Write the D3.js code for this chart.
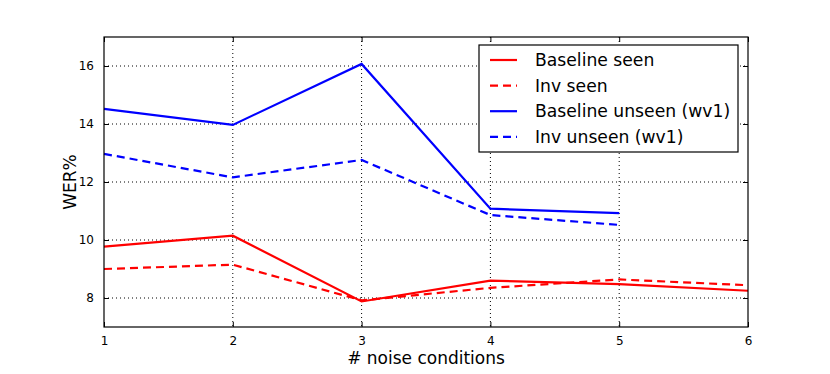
<!DOCTYPE html>
<html>
<head>
<meta charset="utf-8">
<script src="https://cdn.jsdelivr.net/npm/d3@7"></script>
<style>
  body { margin: 0; background: #fff; }
  svg { font-family: "DejaVu Sans", sans-serif; }
  .grid line { stroke: #000; stroke-dasharray: 1,3; stroke-width: 1; }
</style>
</head>
<body>
<div id="chart"></div>
<script>

// data
var noiseConditions = [1, 2, 3, 4, 5, 6];
var baselineSeen   = [9.77, 10.15, 7.88, 8.60, 8.48, 8.25];
var invSeen        = [9.00, 9.15, 7.92, 8.35, 8.64, 8.44];
var baselineUnseen = [14.52, 13.97, 16.07, 11.08, 10.93];
var invUnseen      = [12.97, 12.16, 12.76, 10.86, 10.52];
var yTicks = [8, 10, 12, 14, 16];

var series = [
  {name: "Baseline seen",        values: baselineSeen,   color: "#ff0000", dash: null},
  {name: "Inv seen",             values: invSeen,        color: "#ff0000", dash: "8,5"},
  {name: "Baseline unseen (wv1)", values: baselineUnseen, color: "#0000ff", dash: null},
  {name: "Inv unseen (wv1)",     values: invUnseen,      color: "#0000ff", dash: "8,5"}
];

var margin = {top: 37, right: 82, bottom: 47, left: 104},
    width = 830 - margin.left - margin.right,
    height = 374 - margin.top - margin.bottom;

var svg = d3.select("#chart").append("svg")
    .attr("width", 830)
    .attr("height", 374)
  .append("g")
    .attr("transform", "translate(" + margin.left + "," + margin.top + ")");

var x = d3.scaleLinear().domain([1, 6]).range([0, width]);
var y = d3.scaleLinear().domain([7, 17]).range([height, 0]);

// dotted grid
var grid = svg.append("g").attr("class", "grid");
grid.selectAll(".gx")
    .data(noiseConditions.slice(1, -1))
  .enter().append("line")
    .attr("x1", function(d) { return x(d); })
    .attr("x2", function(d) { return x(d); })
    .attr("y1", 0).attr("y2", height);
grid.selectAll(".gy")
    .data(yTicks)
  .enter().append("line")
    .attr("x1", 0).attr("x2", width)
    .attr("y1", function(d) { return y(d); })
    .attr("y2", function(d) { return y(d); });

// lines
var line = d3.line()
    .x(function(d, i) { return x(noiseConditions[i]); })
    .y(function(d) { return y(d); });

svg.selectAll(".series")
    .data(series)
  .enter().append("path")
    .attr("class", "series")
    .attr("d", function(d) { return line(d.values); })
    .attr("fill", "none")
    .attr("stroke", function(d) { return d.color; })
    .attr("stroke-width", 2.2)
    .attr("stroke-dasharray", function(d) { return d.dash; });

// axes, ticks inside (classic matplotlib look)
var xAxis = d3.axisBottom(x).tickValues(noiseConditions).tickFormat(d3.format("d"))
    .tickSizeInner(-5).tickSizeOuter(0).tickPadding(9);
var yAxis = d3.axisLeft(y).tickValues(yTicks)
    .tickSizeInner(-5).tickSizeOuter(0).tickPadding(10);

svg.append("g")
    .attr("class", "x axis")
    .attr("transform", "translate(0," + height + ")")
    .call(xAxis);
svg.append("g")
    .attr("class", "y axis")
    .call(yAxis);
svg.append("g")
    .call(d3.axisTop(x).tickValues(noiseConditions).tickFormat("").tickSizeInner(-5).tickSizeOuter(0));
svg.append("g")
    .attr("transform", "translate(" + width + ",0)")
    .call(d3.axisRight(y).tickValues(yTicks).tickFormat("").tickSizeInner(-5).tickSizeOuter(0));

svg.selectAll(".domain").remove();
svg.selectAll(".tick line").attr("stroke", "#000");
svg.selectAll(".tick text").attr("font-size", 12).attr("fill", "#000")
    .style("font-family", "DejaVu Sans, sans-serif");

// frame
svg.append("rect")
    .attr("width", width).attr("height", height)
    .attr("fill", "none").attr("stroke", "#000").attr("stroke-width", 1.2);

// axis labels
svg.append("text")
    .attr("x", width / 2)
    .attr("y", height + 37)
    .style("text-anchor", "middle")
    .attr("font-size", 17)
    .text("# noise conditions");

svg.append("text")
    .attr("transform", "rotate(-90)")
    .attr("x", -height / 2)
    .attr("y", -28)
    .style("text-anchor", "middle")
    .attr("font-size", 17)
    .text("WER%");

// legend
var legend = svg.append("g")
    .attr("transform", "translate(" + (479 - margin.left) + "," + (45 - margin.top) + ")");
legend.append("rect")
    .attr("width", 259).attr("height", 107)
    .attr("fill", "#fff").attr("stroke", "#000").attr("stroke-width", 1.2);

var item = legend.selectAll(".item")
    .data(series)
  .enter().append("g")
    .attr("class", "item")
    .attr("transform", function(d, i) { return "translate(0," + (15 + i * 25.6) + ")"; });
item.append("line")
    .attr("x1", 11).attr("x2", 38)
    .attr("stroke", function(d) { return d.color; })
    .attr("stroke-width", 2.2)
    .attr("stroke-dasharray", function(d) { return d.dash; });
item.append("text")
    .attr("x", 56)
    .attr("dy", "0.35em")
    .attr("font-size", 17.2)
    .text(function(d) { return d.name; });

</script>
</body>
</html>
